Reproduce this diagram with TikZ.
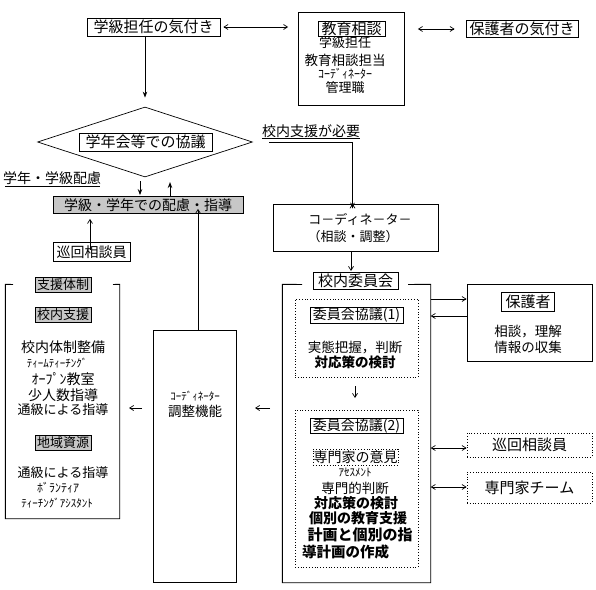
\documentclass[tikz,border=0pt]{standalone}
\usepackage{fontspec}
\setmainfont{Noto Sans CJK JP}
\usetikzlibrary{arrows.meta,shapes.geometric}
\tikzset{
  fs/.style={font=\fontsize{#1}{#1}\selectfont},
  bfs/.style={font=\fontsize{#1}{#1}\selectfont\bfseries},
  bx/.style={draw, inner sep=0pt, line width=0.8pt},
  dbx/.style={draw, dotted, inner sep=0pt, line width=0.8pt},
  gbx/.style={draw, fill=black!22, inner sep=0pt, line width=0.8pt},
  tx/.style={inner sep=0pt},
  ln/.style={line width=0.9pt},
  ar/.style={line width=0.7pt, -{Straight Barb[length=4pt,width=5pt]}},
  dar/.style={line width=0.7pt, {Straight Barb[length=4pt,width=5pt]}-{Straight Barb[length=4pt,width=5pt]}},
  bar/.style={line width=1pt, -{Stealth[length=6pt,width=4.5pt]}},
}
\begin{document}
\begin{tikzpicture}[x=1pt,y=-1pt]
\useasboundingbox (0,0) rectangle (596,589);

% top row
\node[bx, minimum width=133, minimum height=18, fs=15] (kk) at (153.5,27) {学級担任の気付き};
\node[bx, minimum width=106, minimum height=93] (ks) at (351.5,59) {};
\node[bx, minimum width=67, minimum height=15, fs=15] (ksl) at (351.5,28.5) {教育相談};
\node[tx, fs=13] (ks1) at (345,43) {学級担任};
\node[tx, fs=13.5] (ks2) at (345,60) {教育相談担当};
\node[tx, fs=12] (ks3) at (345,74) {ｺｰﾃﾞｨﾈｰﾀｰ};
\node[tx, fs=13] (ks4) at (345,88) {管理職};
\node[bx, minimum width=112, minimum height=17, fs=15] (hk) at (522,29) {保護者の気付き};
\draw[dar] ([xshift=3pt]kk.east) -- ([xshift=-10pt]ks.west |- kk.east);
\draw[dar] ([xshift=13pt]ks.east |- hk.west) -- ([xshift=-11pt]hk.west);

% diamond
\node[draw, diamond, inner sep=0pt, minimum width=215, minimum height=70, line width=0.7pt] (dm) at (145,142) {};
\node[bx, minimum width=133, minimum height=18, fs=15] (dml) at (145.5,142) {学年会等での協議};
\draw[bar] (kk.south -| dm.north) -- ([yshift=9pt]dm.north);

% 校内支援が必要
\node[tx, fs=14] (ksh) at (311,131) {校内支援が必要};
\draw[ln] (262,138.5) -- (360,138.5);
\coordinate (kc1) at (269,142.5);
\coordinate (kc2) at (352.5,142.5);

% 学年・学級配慮
\node[tx, fs=14] (gh) at (52,178) {学年・学級配慮};
\draw[ln] (5,186.5) -- (100,186.5);

% 学級・学年での配慮・指導
\node[gbx, minimum width=190, minimum height=17, fs=14] (gk) at (148,205) {学級・学年での配慮・指導};
\coordinate (ga1) at (140,181);
\coordinate (ga2) at (170,182);
\draw[bar] (ga1) -- ([yshift=1pt]ga1 |- gk.north);
\draw[bar] ([yshift=-1pt]ga2 |- gk.north) -- (ga2);

% 巡回相談員 left
\node[bx, minimum width=77, minimum height=19, fs=14] (jl) at (91.5,252) {巡回相談員};
\draw[ar] ([yshift=-8pt]jl.north -| 90,0) -- ([yshift=-5pt]gk.south -| 90,0);

% coordinator box
\node[bx, minimum width=165, minimum height=47] (cb) at (355.5,227.5) {};
\node[tx, fs=13] (cb1) at (360,219) {コ－ディネ－タ－};
\node[tx, fs=13] (cb2) at (353,237) {（相談・調整）};
\draw[ln] (kc1) -- (kc2);
\draw[bar] (kc2) -- ([yshift=-5pt]kc2 |- cb.north);
\draw[ar] ([yshift=-2pt]kc2 |- cb.north) -- (kc2 |- cb.north);

% 校内委員会 frame
\node[minimum width=148, minimum height=298, inner sep=0pt] (kf) at (356.5,433.5) {};
\draw[ln] (302,284.5) -- (kf.north west) -- (kf.south west) -- (kf.south east) -- (kf.north east) -- (408,284.5);
\node[bx, fill=white, minimum width=85, minimum height=17, fs=15] (kt) at (355.5,281) {校内委員会};
\draw[ar] (351,251) -- (351,271);

% dotted box 1
\node[dbx, minimum width=123, minimum height=78] (d1) at (356.5,338) {};
\node[bx, minimum width=93, minimum height=16, fs=14] (d1l) at (356.5,315) {委員会協議(1)};
\node[tx, fs=13.5] (d1a) at (355,348) {実態把握，判断};
\node[tx, bfs=13.5] (d1b) at (355,362) {対応策の検討};
\draw[ar] (355,386) -- (355,398);

% dotted box 2
\node[dbx, minimum width=123, minimum height=157] (d2) at (356.5,488.5) {};
\node[bx, minimum width=93, minimum height=15, fs=14] (d2l) at (356.5,425.5) {委員会協議(2)};
\node[dbx, minimum width=85, minimum height=16, fs=14] (d2s) at (355.5,457) {専門家の意見};
\node[tx, fs=11] (d2a) at (355,472) {ｱｾｽﾒﾝﾄ};
\node[tx, fs=13.5] (d2b) at (355,488) {専門的判断};
\node[tx, bfs=14] (d2c) at (356,503) {対応策の検討};
\node[tx, bfs=14] (d2d) at (358,518) {個別の教育支援};
\node[tx, bfs=15] (d2e) at (360,535) {計画と個別の指};
\node[tx, bfs=14.5, anchor=west] (d2f) at (302,552) {導計画の作成};

% 保護者 box
\node[bx, minimum width=125, minimum height=77] (pb) at (529.5,322.5) {};
\node[bx, minimum width=53, minimum height=19, fs=15] (pbl) at (528,302) {保護者};
\node[tx, fs=13.5] (pb1) at (528,332) {相談，理解};
\node[tx, fs=13.5] (pb2) at (528,347) {情報の収集};
\draw[ar] (kf.east |- 0,299) -- (pb.west |- 0,299);
\draw[ar] (pb.west |- 0,316) -- (kf.east |- 0,316);

% right dotted boxes
\node[dbx, minimum width=125, minimum height=24, fs=15] (jr) at (529.5,445) {巡回相談員};
\node[dbx, minimum width=125, minimum height=31, fs=15] (sk) at (529.5,487.5) {専門家チーム};
\draw[dar] (kf.east |- 0,448) -- (jr.west |- 0,448);
\draw[dar] (kf.east |- 0,487) -- (sk.west |- 0,487);

% 調整機能 box
\node[bx, minimum width=83, minimum height=252] (cf) at (195,456.5) {};
\node[tx, fs=11] (cf1) at (195,396) {ｺｰﾃﾞｨﾈｰﾀｰ};
\node[tx, fs=13.5] (cf2) at (195,411) {調整機能};
\draw[ar] (cf.north -| 198,0) -- ([yshift=5pt]gk.south -| 198,0);
\draw[ar] (270,408) -- (255,408);
\draw[ar] (142,408) -- (129,408);

% 支援体制 frame
\node[minimum width=114, minimum height=234, inner sep=0pt] (sf) at (62.5,401.5) {};
\draw[ln] (13,284.5) -- (sf.north west) -- (sf.south west) -- (sf.south east) -- (sf.north east) -- (113,284.5);
\node[gbx, minimum width=56, minimum height=15, fs=13] (sft) at (63,284.5) {支援体制};
\node[gbx, minimum width=56, minimum height=15, fs=13] (sf1) at (63,315) {校内支援};
\node[tx, fs=14] (sf2) at (63,347) {校内体制整備};
\node[tx, fs=11] (sf3) at (57,363) {ﾃｨｰﾑﾃｨｰﾁﾝｸﾞ};
\node[tx, fs=14] (sf4) at (63,379) {ｵｰﾌﾟﾝ教室};
\node[tx, fs=14] (sf5) at (63,395) {少人数指導};
\node[tx, fs=13] (sf6) at (63,410) {通級による指導};
\node[gbx, minimum width=56, minimum height=15, fs=13] (sf7) at (63,443) {地域資源};
\node[tx, fs=13] (sf8) at (63,473) {通級による指導};
\node[tx, fs=12] (sf9) at (58,488) {ﾎﾞﾗﾝﾃｨｱ};
\node[tx, fs=11] (sf10) at (57,503) {ﾃｨｰﾁﾝｸﾞｱｼｽﾀﾝﾄ};
\end{tikzpicture}
\end{document}
